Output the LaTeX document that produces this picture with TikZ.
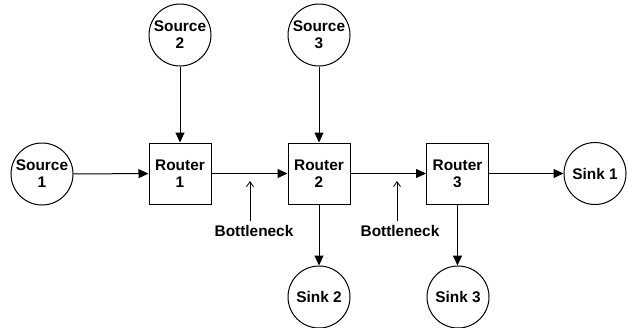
\documentclass[tikz,border=0pt]{standalone}
\usepackage{fontspec}
\setmainfont{Liberation Sans}
\usetikzlibrary{arrows.meta}
\begin{document}
\begin{tikzpicture}[x=1pt,y=-1pt,
  every node/.style={font=\fontsize{15.4}{16.8}\selectfont\bfseries, align=center, inner sep=0pt},
  circ/.style={draw, line width=1pt, circle, minimum size=62pt},
  rbox/.style={draw, line width=1pt, minimum width=62pt, minimum height=61pt},
  link/.style={line width=1pt, -{Triangle[length=10pt,width=9pt]}},
  note/.style={line width=0.8pt, -{Straight Barb[length=5pt,width=7pt]}}]
\useasboundingbox (0,0) rectangle (628,327);
\node[circ] (s1) at (42,174) {Source\\1};
\node[circ] (s2) at (180,35) {Source\\2};
\node[circ] (s3) at (319,35) {Source\\3};
\node[rbox] (r1) at (180,173.5) {Router\\1};
\node[rbox] (r2) at (319,173.5) {Router\\2};
\node[rbox] (r3) at (457.5,173.5) {Router\\3};
\node[circ] (k1) at (595,173.5) {Sink 1};
\node[circ] (k2) at (319,297) {Sink 2};
\node[circ] (k3) at (458,297) {Sink 3};
\node (b1) at (254,231) {Bottleneck};
\node (b2) at (400,231) {Bottleneck};
\coordinate (t1) at (250,181);
\coordinate (t2) at (397,181);
\draw[link] (s1) -- (r1);
\draw[link] (s2) -- (r1);
\draw[link] (s3) -- (r2);
\draw[link] (r1) -- (r2);
\draw[link] (r2) -- (r3);
\draw[link] (r3) -- (k1);
\draw[link] (r2) -- (k2);
\draw[link] (r3.south) -- (k3.north -| r3.south);
\draw[note] (b1.north -| t1) ++(0,-4) -- (t1);
\draw[note] (b2.north -| t2) ++(0,-4) -- (t2);
\end{tikzpicture}
\end{document}
